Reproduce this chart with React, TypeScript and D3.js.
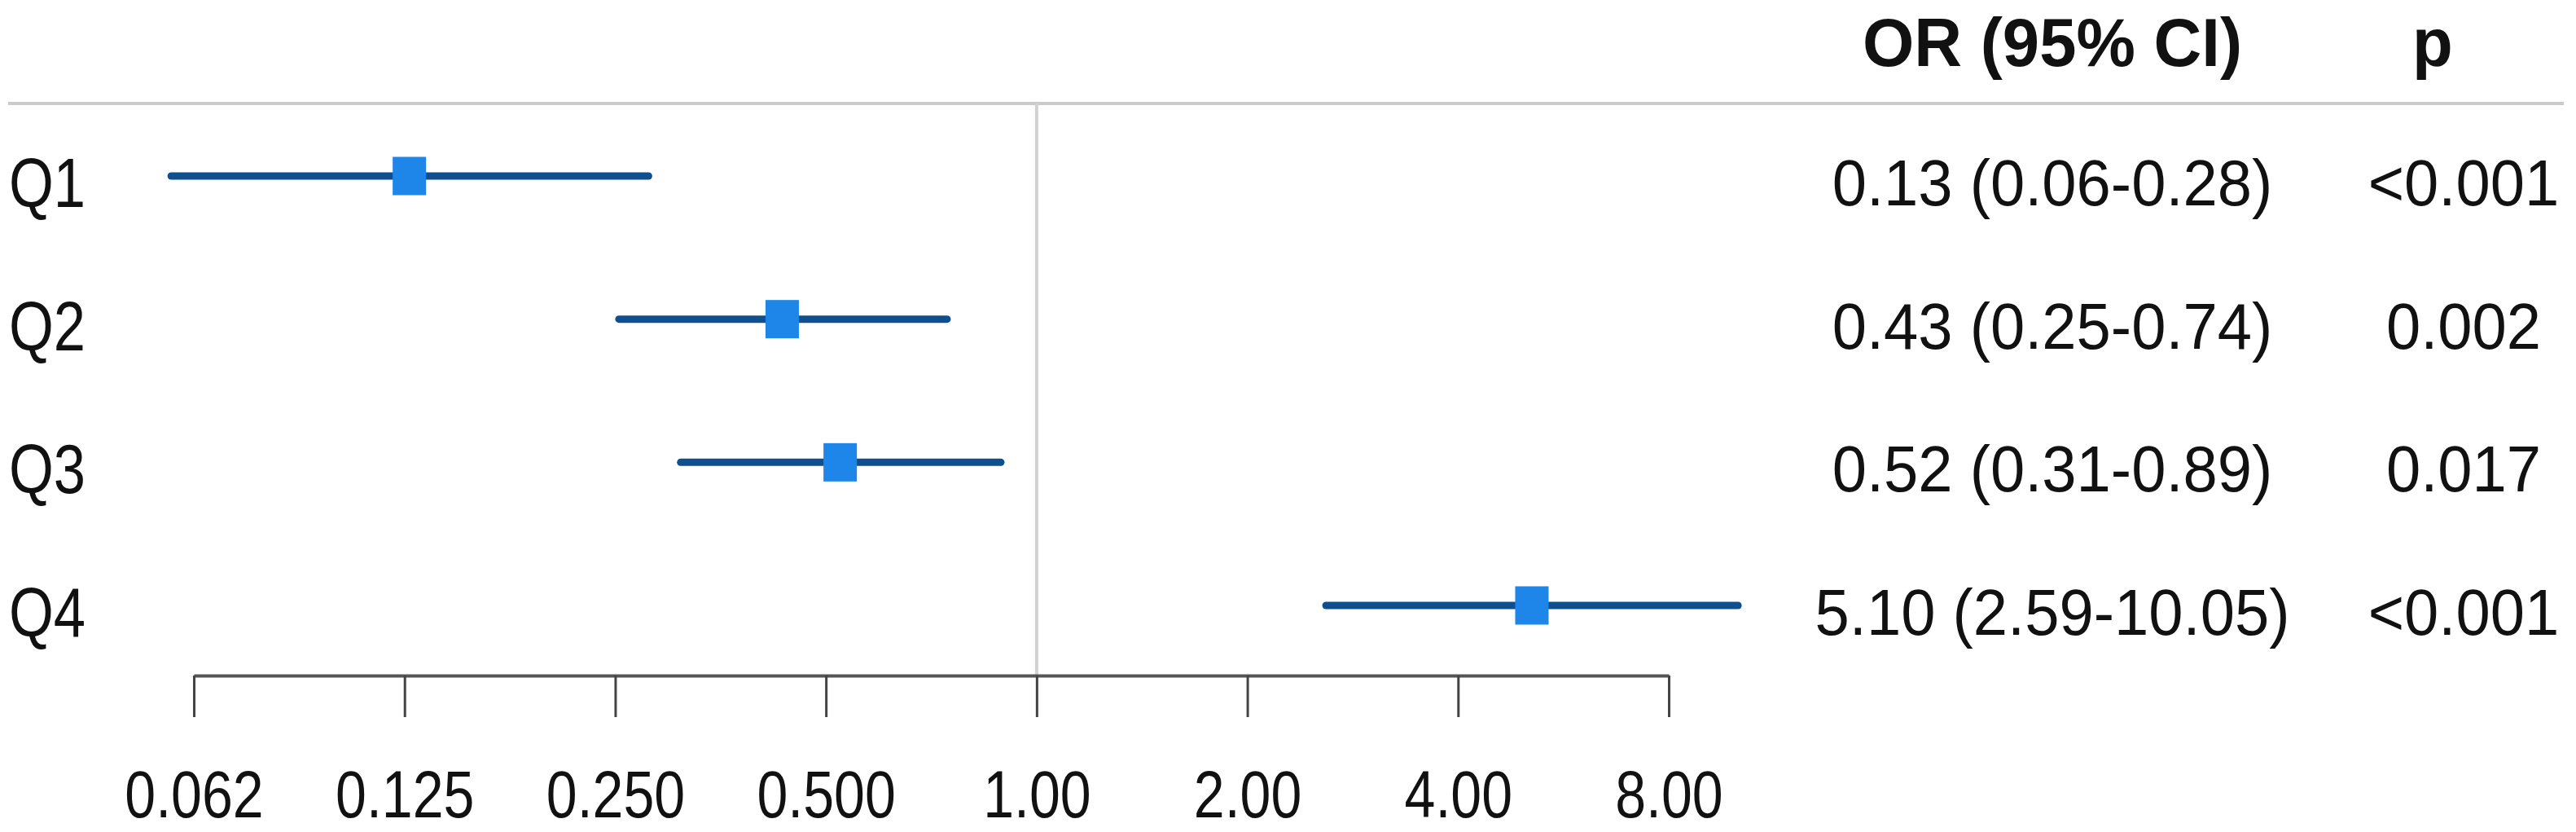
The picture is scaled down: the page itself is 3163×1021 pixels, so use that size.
import React, { useRef, useEffect } from 'react';
import * as d3 from 'd3';

// rows of the forest plot
const labels = ['Q1', 'Q2', 'Q3', 'Q4'];
const orValues = [0.127, 0.433, 0.524, 5.1];
const lowerCI = [0.058, 0.253, 0.31, 2.59];
const upperCI = [0.279, 0.745, 0.889, 10.05];
const orText = ['0.13 (0.06-0.28)', '0.43 (0.25-0.74)', '0.52 (0.31-0.89)', '5.10 (2.59-10.05)'];
const pText = ['<0.001', '0.002', '0.017', '<0.001'];

// x axis (log2)
const tickValues = [0.0625, 0.125, 0.25, 0.5, 1, 2, 4, 8];
const tickLabels = ['0.062', '0.125', '0.250', '0.500', '1.00', '2.00', '4.00', '8.00'];

const FONT = '"Liberation Sans", Arial, Helvetica, sans-serif';

function ForestPlot() {
  const svgRef = useRef<SVGSVGElement | null>(null);

  useEffect(() => {
    const width = 3163;
    const height = 1021;
    const headerY = 127;
    const axisY = 829;

    const svg = d3.select(svgRef.current)
      .attr('width', width)
      .attr('height', height);
    svg.selectAll('*').remove();

    const x = d3.scaleLog().base(2)
      .domain([tickValues[0], tickValues[tickValues.length - 1]])
      .range([238, 2049]);

    const y = d3.scalePoint()
      .domain(labels)
      .range([216, 743]);

    // little helper: text squeezed horizontally like the source image
    const addText = (tx, ty, str, opts: any = {}) => {
      svg.append('text')
        .attr('transform', `translate(${tx},${ty}) scale(${opts.sx ?? 1},1)`)
        .attr('text-anchor', opts.anchor ?? 'middle')
        .style('font-family', FONT)
        .style('font-size', `${opts.size ?? 80}px`)
        .style('font-weight', opts.bold ? 'bold' : 'normal')
        .style('fill', '#111')
        .text(str);
    };

    // header line
    svg.append('line')
      .attr('x1', 10).attr('x2', 3148)
      .attr('y1', headerY).attr('y2', headerY)
      .attr('stroke', '#cbcbcb')
      .attr('stroke-width', 4);

    // reference line at OR = 1
    svg.append('line')
      .attr('x1', x(1)).attr('x2', x(1))
      .attr('y1', headerY).attr('y2', axisY)
      .attr('stroke', '#d2d2d2')
      .attr('stroke-width', 4);

    // axis
    const axis = svg.append('g')
      .attr('transform', `translate(0, ${axisY})`)
      .call(d3.axisBottom(x)
        .tickValues(tickValues)
        .tickFormat((d, i) => tickLabels[i])
        .tickSize(51)
        .tickSizeOuter(0));
    axis.select('.domain')
      .attr('stroke', '#555')
      .attr('stroke-width', 4);
    axis.selectAll('.tick line')
      .attr('stroke', '#444')
      .attr('stroke-width', 3);
    axis.selectAll('.tick text')
      .attr('y', 174)
      .attr('dy', 0)
      .attr('transform', 'scale(0.83,1)')
      .attr('fill', '#111')
      .style('font-family', FONT)
      .style('font-size', '82px');

    // CI lines
    svg.selectAll('line.ci')
      .data(labels)
      .enter()
      .append('line')
      .attr('class', 'ci')
      .attr('x1', (d, i) => x(lowerCI[i]))
      .attr('x2', (d, i) => x(upperCI[i]))
      .attr('y1', d => y(d))
      .attr('y2', d => y(d))
      .attr('stroke', '#0f4f8f')
      .attr('stroke-width', 9)
      .attr('stroke-linecap', 'round');

    // point estimates
    const boxW = 41;
    const boxH = 47;
    svg.selectAll('rect.or')
      .data(labels)
      .enter()
      .append('rect')
      .attr('class', 'or')
      .attr('x', (d, i) => x(orValues[i]) - boxW / 2)
      .attr('y', d => y(d) - boxH / 2)
      .attr('width', boxW)
      .attr('height', boxH)
      .attr('fill', '#1e86e8');

    // row labels
    labels.forEach(l => addText(11, y(l) + 38, l, { anchor: 'start', size: 86, sx: 0.82 }));

    // table columns
    addText(2520, 81, 'OR (95% CI)', { size: 84, bold: true, sx: 0.97 });
    addText(2987, 81, 'p', { size: 84, bold: true, sx: 0.97 });
    labels.forEach((l, i) => {
      addText(2520, y(l) + 36, orText[i], { size: 80, sx: 0.95 });
      addText(3025, y(l) + 36, pText[i], { size: 80, sx: 0.95 });
    });
  }, []);

  return <svg ref={svgRef} style={{ position: 'absolute', left: 0, top: 0, background: '#fff' }}></svg>;
}

export default function App() {
  return (
    <div>
      <ForestPlot />
    </div>
  );
}
